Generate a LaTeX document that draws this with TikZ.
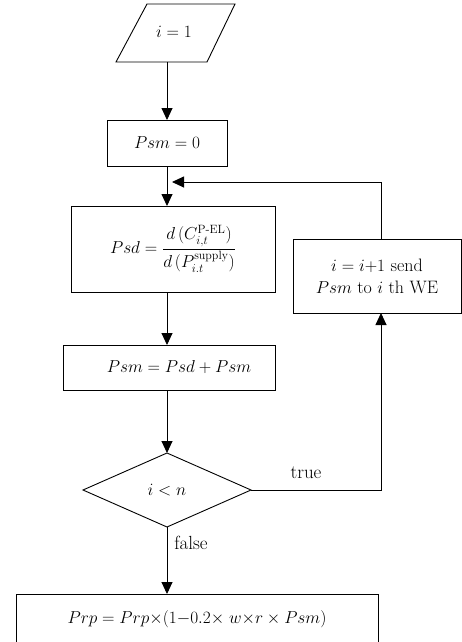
\documentclass[tikz,border=0pt]{standalone}
\usepackage{amsmath}
\usetikzlibrary{arrows.meta,shapes.geometric}
\begin{document}
\begin{tikzpicture}[x=1pt,y=-1pt,line width=0.9pt,
  font=\fontsize{17}{20}\selectfont,
  boxnode/.style={draw,rectangle,inner sep=0pt,outer sep=0pt},
  decnode/.style={draw,diamond,inner sep=0pt,outer sep=0pt,minimum width=168pt,minimum height=74pt},
  arr/.style={-{Triangle[width=11pt,length=12pt]}},
  lbl/.style={inner sep=0pt}]
\useasboundingbox (0,0) rectangle (462,642);
\clip (0,0) rectangle (462,642);
% start parallelogram
\draw (147,4) -- (235,4) -- (207,62) -- (116,62) -- cycle;
\node[lbl] (start) at (174,32) {$i = 1$};
\coordinate (startb) at (167,62);
% boxes
\node[boxnode,minimum width=120pt,minimum height=46pt] (psm0) at (167,143) {$Psm = 0$};
\node[boxnode,minimum width=204pt,minimum height=86pt,font=\fontsize{18}{21}\selectfont] (psd) at (173,249)
  {$Psd = \dfrac{d\,(C_{i,t}^{\mathrm{P\text{-}EL}})}{d\,(P_{i.t}^{\mathrm{supply}})}$};
\node[boxnode,minimum width=212pt,minimum height=45pt] (psmsum) at (169,367.5) {\hspace*{20pt}$Psm = Psd + Psm$};
\node[boxnode,minimum width=168pt,minimum height=74pt,align=center,font=\fontsize{18}{21}\selectfont] (send) at (377,276)
  {$i = i{+}1$ send\\[1pt] $Psm$ to $i$ th WE};
\node[decnode] (dec) at (167,490) {$i < n$};
\node[boxnode,minimum width=362pt,minimum height=50pt] (final) at (197,619)
  {$Prp = Prp{\times}(1{-}0.2{\times}\; w{\times}r \times Psm)$};
% connectors
\coordinate (fb) at (172,182);
\draw[arr] (startb) -- (psm0.north);
\draw[arr] (psm0.south) -- (psm0.south |- psd.north);
\draw[arr] ([xshift=4pt]send.north) |- (fb);
\draw[arr] (psm0.south |- psd.south) -- (psm0.south |- psmsum.north);
\draw[arr] (psm0.south |- psmsum.south) -- (dec.north);
\draw[arr] (dec.east) -| ([xshift=4pt]send.south);
\draw[arr] (dec.south) -- (dec.south |- final.north);
\node[lbl,font=\fontsize{19}{22}\selectfont] (truelbl) at (306,473) {true};
\node[lbl,anchor=west,font=\fontsize{19}{22}\selectfont] (falselbl) at (174,543) {false};
\end{tikzpicture}
\end{document}
